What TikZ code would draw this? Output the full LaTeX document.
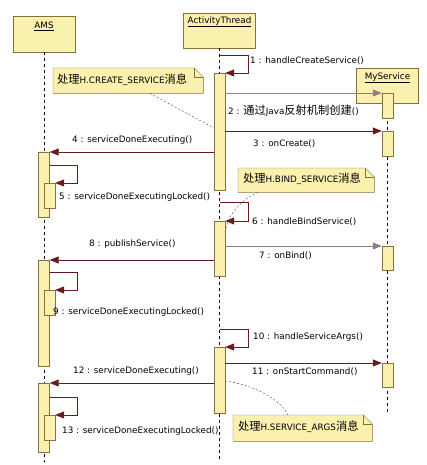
\documentclass[tikz,border=0pt]{standalone}
\usepackage{fontspec}
\setmainfont{DejaVu Sans}
\newfontfamily\cjk{Noto Sans CJK SC}[Scale=1.28]
\usetikzlibrary{arrows.meta,calc}
\definecolor{boxfill}{HTML}{FAF1AE}
\definecolor{boxline}{HTML}{86703C}
\definecolor{msgc}{HTML}{6A1A1E}
\definecolor{msglight}{HTML}{957E80}
\begin{document}
\begin{tikzpicture}[x=1pt,y=-1pt,
  font=\fontsize{8.8}{10}\selectfont,
  head/.style={draw=boxline,fill=boxfill,minimum width=62pt,minimum height=36pt,anchor=north,inner sep=0pt},
  act/.style={draw=boxline,fill=boxfill,minimum width=11pt,inner sep=0pt,anchor=north},
  life/.style={draw=black,dash pattern=on 3pt off 3pt},
  msg/.style={draw=msgc,line width=0.8pt,-{Triangle[length=9pt,width=7pt]}},
  msgl/.style={msg,draw=msglight},
  lbl/.style={anchor=west,inner sep=0pt,text=black},
  notefrm/.style={anchor=north west,inner sep=0pt},
  notebox/.style={draw=boxline,fill=boxfill},
  notelink/.style={draw=black!70,dash pattern=on 2pt off 2pt},
]
\fill[white] (0,0) rectangle (427,465);
\useasboundingbox (0,0) rectangle (427,465);

% heads
\node[head] (AMS) at (44,16) {};
\node[head,minimum width=72pt,minimum height=35pt] (AT) at (219.5,13) {};
\node[head,minimum height=35pt] (MS) at (387.5,68) {};
\node (AMSt) at ($(AMS.north)+(0,10)$) {\underline{AMS}};
\node (ATt) at ($(AT.north)+(0,9)$) {\underline{ActivityThread}};
\node (MSt) at ($(MS.north)+(0,10)$) {\underline{MyService}};

% lifelines
\coordinate (AMSend) at (AMS.south |- 0,462);
\coordinate (ATend) at (AT.south |- 0,462);
\coordinate (MSend) at (MS.south |- 0,415);
\draw[life] (AMS.south) -- (AMSend);
\draw[life] (AT.south) -- (ATend);
\draw[life] (MS.south) -- (MSend);

% activations
\node[act,minimum height=65pt] (a1) at (44,152) {};
\node[act,minimum height=25pt] (a1n) at (49.5,183) {};
\node[act,minimum height=106pt] (a2) at (44,260) {};
\node[act,minimum height=25pt] (a2n) at (49.5,290) {};
\node[act,minimum height=69pt] (a3) at (44,383) {};
\node[act,minimum height=25pt] (a3n) at (49.5,415) {};
\node[act,minimum height=117pt] (at1) at (219.5,73) {};
\node[act,minimum height=55pt] (at2) at (219.5,221) {};
\node[act,minimum height=66pt] (at3) at (219.5,347) {};
\node[act,minimum height=25pt] (ms1) at (387.5,93) {};
\node[act,minimum height=25pt] (ms2) at (387.5,131) {};
\node[act,minimum height=24pt] (ms3) at (387.5,246) {};
\node[act,minimum height=24pt] (ms4) at (387.5,363) {};

% messages
\draw[msg] ($(at1.north)+(0,-18)$) -- ++(28.5,0) |- (at1.north east);
\draw[msgl] (at1.east |- ms1.north) -- (ms1.north west);
\draw[msg] (at1.east |- ms2.north) -- (ms2.north west);
\draw[msg] (at1.west |- a1.north) -- (a1.north east);
\draw[msg] ($(a1.east |- a1n.north)+(0,-18)$) -- ++(27.5,0) |- (a1n.north east);
\draw[msg] ($(at2.north)+(0,-19)$) -- ++(28.5,0) |- (at2.north east);
\draw[msgl] (at2.east |- ms3.north) -- (ms3.north west);
\draw[msg] (at2.west |- a2.north) -- (a2.north east);
\draw[msg] ($(a2.east |- a2n.north)+(0,-18)$) -- ++(27.5,0) |- (a2n.north east);
\draw[msg] ($(at3.north)+(0,-18)$) -- ++(28.5,0) |- (at3.north east);
\draw[msg] (at3.east |- ms4.north) -- (ms4.north west);
\draw[msg] (at3.west |- a3.north) -- (a3.north east);
\draw[msg] ($(a3.east |- a3n.north)+(0,-18)$) -- ++(27.5,0) |- (a3n.north east);

% labels
\node[lbl] (l1) at (250,61) {1 : handleCreateService()};
\node[lbl] (l2) at (228,111) {2 : {\cjk 通过}Java{\cjk 反射机制创建}()};
\node[lbl] (l3) at (253,144) {3 : onCreate()};
\node[lbl] (l4) at (72,140) {4 : serviceDoneExecuting()};
\node[lbl] (l5) at (59,197) {5 : serviceDoneExecutingLocked()};
\node[lbl] (l6) at (252,222) {6 : handleBindService()};
\node[lbl] (l7) at (259,256) {7 : onBind()};
\node[lbl] (l8) at (89,244) {8 : publishService()};
\node[lbl] (l9) at (53,312) {9 : serviceDoneExecutingLocked()};
\node[lbl] (l10) at (253,337) {10 : handleServiceArgs()};
\node[lbl] (l11) at (252,372) {11 : onStartCommand()};
\node[lbl] (l12) at (73,371) {12 : serviceDoneExecuting()};
\node[lbl] (l13) at (62,431) {13 : serviceDoneExecutingLocked()};

% notes
\node[notefrm,minimum width=150pt,minimum height=25pt] (n1) at (53,68) {};
\node[notefrm,minimum width=136pt,minimum height=24pt] (n2) at (238,168) {};
\node[notefrm,minimum width=139pt,minimum height=26pt] (n3) at (233,415) {};
\foreach \n in {n1,n2,n3}{
  \filldraw[notebox] (\n.south west) -- (\n.north west) -- ($(\n.north east)+(-9,0)$)
    -- ($(\n.north east)+(0,9)$) -- (\n.south east) -- cycle;
  \draw[boxline] ($(\n.north east)+(-9,0)$) -- ($(\n.north east)+(-9,9)$) -- ($(\n.north east)+(0,9)$);
}
\node[lbl] (t1) at ($(n1.west)+(4,-1)$) {{\cjk 处理}H.CREATE\_SERVICE{\cjk 消息}};
\node[lbl] (t2) at ($(n2.west)+(5,-1)$) {{\cjk 处理}H.BIND\_SERVICE{\cjk 消息}};
\node[lbl] (t3) at ($(n3.west)+(5,-1)$) {{\cjk 处理}H.SERVICE\_ARGS{\cjk 消息}};

% note links
\draw[notelink] ($(n1.south west)+(97,0)$) -- (at1.west |- 0,128);
\draw[notelink] ($(n2.south west)+(20,0)$) .. controls (240,200) and (228,215) .. (at2.east |- 0,232);
\draw[notelink] (at3.east |- 0,381) .. controls (250,384) and (280,398) .. ($(n3.north west)+(55,0)$);
\end{tikzpicture}
\end{document}
